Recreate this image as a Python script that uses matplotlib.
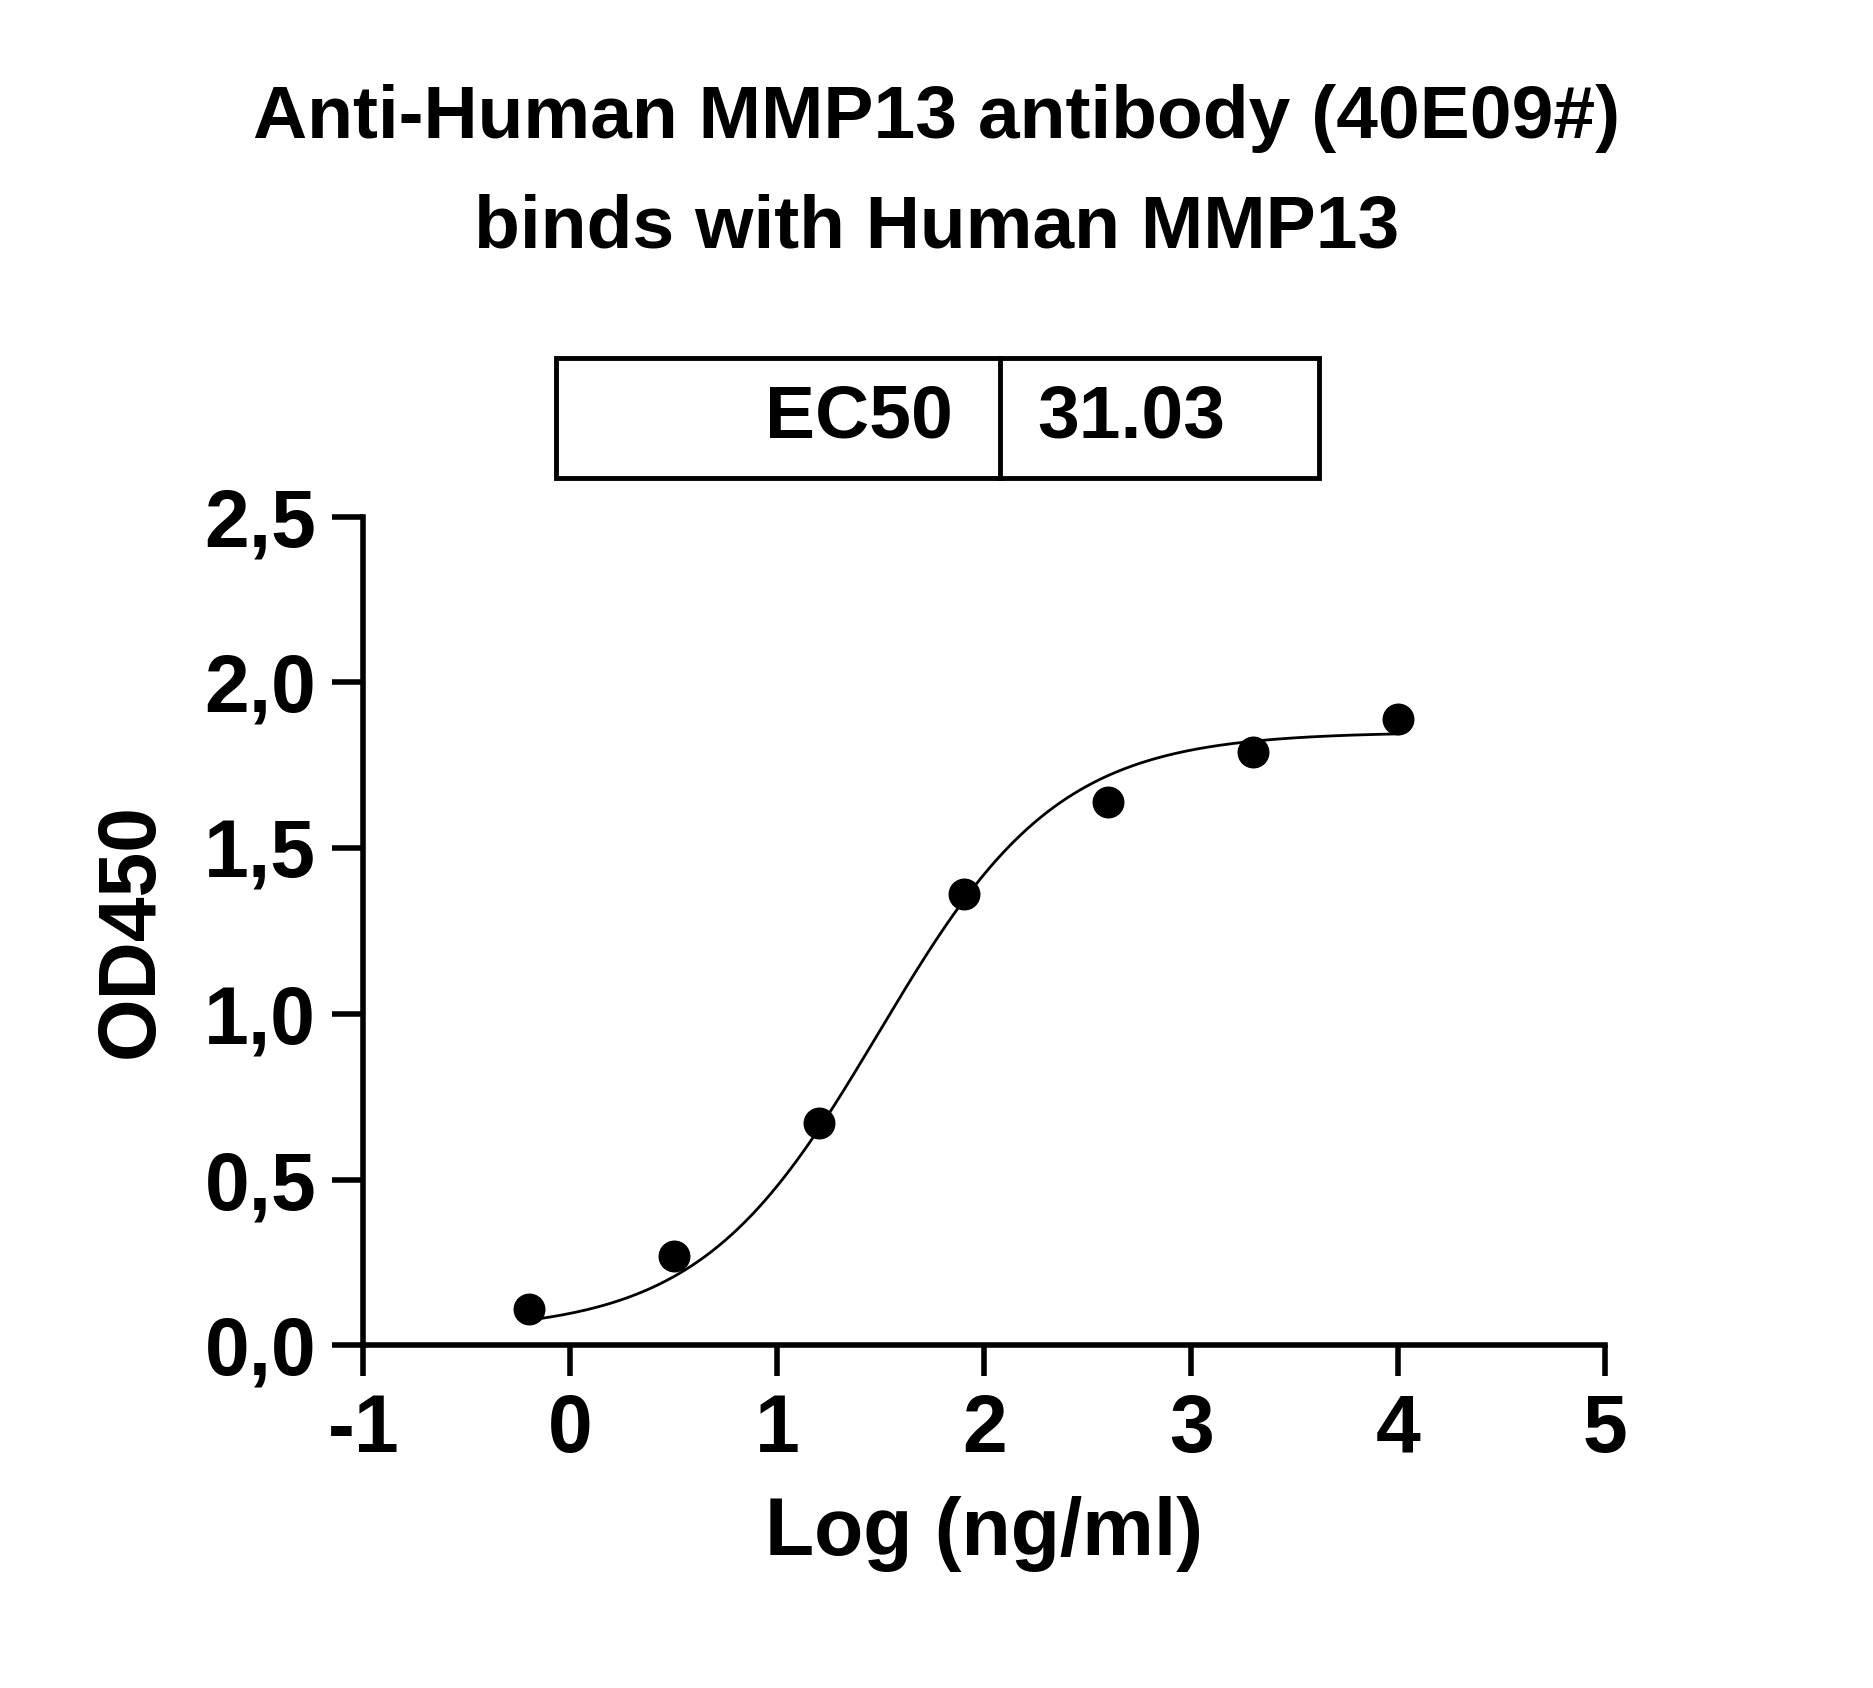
import numpy as np
import matplotlib
matplotlib.use("Agg")
import matplotlib.pyplot as plt
from matplotlib.patches import Rectangle

plt.rcParams['font.family'] = ['Liberation Sans', 'DejaVu Sans']
plt.rcParams['font.weight'] = 'bold'

log_conc = [-0.2, 0.5, 1.2, 1.9, 2.6, 3.3, 4.0]
od450 = [0.11, 0.27, 0.67, 1.36, 1.64, 1.79, 1.89]
# 4PL fit parameters
bottom, top, log_ec50, hill = 0.04, 1.85, np.log10(31.03), 1.0
xticks = [-1, 0, 1, 2, 3, 4, 5]
yticks = [0.0, 0.5, 1.0, 1.5, 2.0, 2.5]
ytick_labels = ["0,0", "0,5", "1,0", "1,5", "2,0", "2,5"]

fig = plt.figure(figsize=(18.73, 16.88), dpi=100)
ax = fig.add_axes([0.194, 0.203, 0.663, 0.491])
xs = np.linspace(min(log_conc), max(log_conc), 400)
ys = bottom + (top - bottom) / (1 + 10 ** ((log_ec50 - xs) * hill))
ax.plot(xs, ys, color='black', lw=2)
ax.plot(log_conc, od450, 'o', color='black', ms=22)
ax.set_xlim(-1, 5)
ax.set_ylim(0, 2.5)
ax.set_xticks(xticks)
ax.set_xticklabels([str(t) for t in xticks])
ax.set_yticks(yticks)
ax.set_yticklabels(ytick_labels)
for s in ['top', 'right']:
    ax.spines[s].set_visible(False)
for s in ['left', 'bottom']:
    ax.spines[s].set_linewidth(4)
ax.tick_params(width=4, length=22, labelsize=58, pad=12)
for lab in ax.get_xticklabels() + ax.get_yticklabels():
    lab.set_fontweight('bold')
ax.set_xlabel("Log (ng/ml)", fontsize=58, fontweight='bold', labelpad=20)
ax.set_ylabel("OD450", fontsize=58, fontweight='bold', labelpad=25)

fig.text(0.5, 0.93, "Anti-Human MMP13 antibody (40E09#)", ha='center', va='center', fontsize=54, fontweight='bold')
fig.text(0.5, 0.865, "binds with Human MMP13", ha='center', va='center', fontsize=54, fontweight='bold')

# EC50 table
tb_l, tb_b, tb_w, tb_h, tb_div = 0.297, 0.717, 0.407, 0.071, 0.534
fig.patches.append(Rectangle((tb_l, tb_b), tb_w, tb_h, transform=fig.transFigure, fill=False, lw=3.5, color='black'))
fig.add_artist(plt.Line2D([tb_div, tb_div], [tb_b, tb_b + tb_h], transform=fig.transFigure, color='black', lw=3.5))
fig.text(tb_div - 0.025, tb_b + tb_h / 2, "EC50", ha='right', va='center', fontsize=54, fontweight='bold')
fig.text(tb_div + 0.02, tb_b + tb_h / 2, "31.03", ha='left', va='center', fontsize=54, fontweight='bold')

fig.savefig("out.png", dpi=100)
